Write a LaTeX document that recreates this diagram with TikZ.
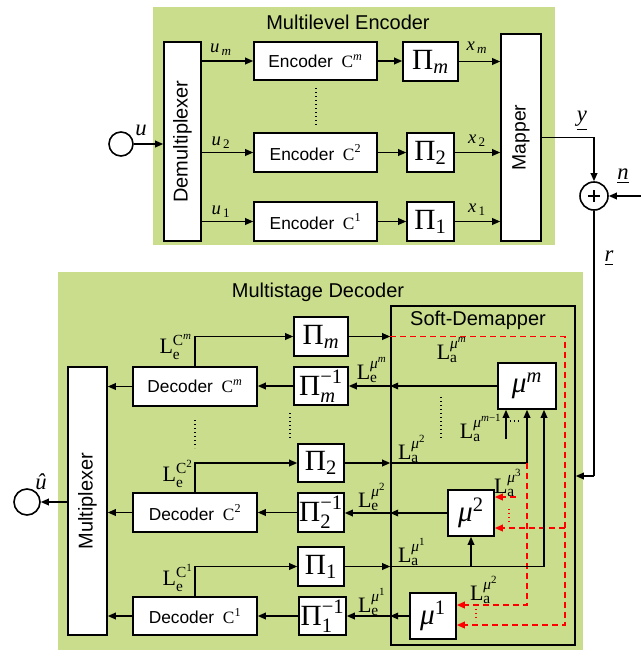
\documentclass[tikz,border=0pt]{standalone}
\usepackage{fontspec}
\usepackage{amsmath}
\setmainfont{Liberation Serif}
\setsansfont{Liberation Sans}
\usetikzlibrary{arrows.meta}
\definecolor{grn}{RGB}{201,221,140}
\newcommand{\tm}[1]{\text{\rmfamily\upshape #1}}
\newcommand{\ti}[1]{\text{\rmfamily\itshape #1}}
\begin{document}
\begin{tikzpicture}[x=0.75pt,y=-0.75pt,
  box/.style={draw, fill=white, line width=1.2pt, inner sep=0pt, font=\sffamily\fontsize{13}{15}\selectfont},
  sz/.style 2 args={minimum width=#1*0.75pt, minimum height=#2*0.75pt},
  ln/.style={line width=1pt},
  arr/.style={ln, -{Triangle[length=6pt,width=5pt]}},
  rdash/.style={red, line width=1.2pt, dash pattern=on 4.5pt off 3pt},
  rarr/.style={rdash, -{Triangle[length=6pt,width=5pt]}},
  ttl/.style={font=\sffamily\fontsize{15}{17}\selectfont, inner sep=0pt},
  rot/.style={box, font=\sffamily\fontsize{15}{17}\selectfont},
  pis/.style={box, font=\fontsize{22}{24}\selectfont},
  lbl/.style={font=\fontsize{16.5}{18}\selectfont, inner sep=0pt},
  sml/.style={font=\fontsize{14}{16}\selectfont, inner sep=0pt},
  dots/.style={dotted, line width=1pt},
  circ/.style={circle, draw, line width=1.2pt, inner sep=0pt}]
\useasboundingbox (0,0) rectangle (641,650);

% ---------------- Encoder ----------------
\fill[grn] (153,7) rectangle (555,245);
\node[ttl] (enct) at (348,22) {Multilevel Encoder};
\node[rot, sz={37}{199}] (demux) at (182.5,141.5) {\rotatebox{90}{Demultiplexer}};
\node[circ, minimum size=24*0.75pt] (uin) at (121,144) {};
\draw[arr] (uin.east) -- (uin.east -| demux.west);
\node[lbl, font=\fontsize{17}{18}\selectfont] (ul) at (141,130) {$\ti{u}$};

\node[box, sz={123}{38}] (encm) at (315.5,61) {Encoder\enspace$\tm{C}^{\ti{m}}$};
\node[box, sz={123}{39}] (enc2) at (315.5,152.5) {Encoder\enspace$\tm{C}^{\tm{2}}$};
\node[box, sz={123}{39}] (enc1) at (315.5,221.5) {Encoder\enspace$\tm{C}^{\tm{1}}$};
\draw[arr] (demux.east |- encm.west) -- (encm.west);
\draw[arr] (demux.east |- enc2.west) -- (enc2.west);
\draw[arr] (demux.east |- enc1.west) -- (enc1.west);
\node[sml] (uml) at (221,50) {$\ti{u}_{\,\ti{m}}$};
\node[sml] (u2l) at (221,143) {$\ti{u}_{\,\tm{2}}$};
\node[sml] (u1l) at (221,212) {$\ti{u}_{\,\tm{1}}$};
\draw[dots] (316,88) -- (316,126);

\node[pis, sz={55}{39}] (pem) at (430.5,61.5) {$\tm{Π}_{\ti{m}}$};
\node[pis, sz={47}{39}] (pe2) at (430.5,152.5) {$\tm{Π}_{\tm{2}}$};
\node[pis, sz={47}{39}] (pe1) at (430.5,221.5) {$\tm{Π}_{\tm{1}}$};
\draw[arr] (encm.east) -- (encm.east -| pem.west);
\draw[arr] (enc2.east) -- (enc2.east -| pe2.west);
\draw[arr] (enc1.east) -- (enc1.east -| pe1.west);

\node[rot, sz={40}{207}, font=\sffamily\fontsize{14.5}{17}\selectfont] (map) at (521,137.5) {\rotatebox{90}{Mapper}};
\draw[arr] (pem.east) -- (pem.east -| map.west);
\draw[arr] (pe2.east) -- (pe2.east -| map.west);
\draw[arr] (pe1.east) -- (pe1.east -| map.west);
\node[sml] (xml) at (477,48) {$\ti{x}_{\,\ti{m}}$};
\node[sml] (x2l) at (477,141) {$\ti{x}_{\,\tm{2}}$};
\node[sml] (x1l) at (477,210) {$\ti{x}_{\,\tm{1}}$};

% channel
\node[circ, minimum size=28*0.75pt] (add) at (594,196) {};
\draw[line width=1.6pt] (add.center) +(-6,0) -- +(6,0) (add.center) +(0,-6) -- +(0,6);
\draw[arr] (map.east) -- (map.east -| add.north) -- (add.north);
\node[lbl, font=\fontsize{17}{18}\selectfont] (yl) at (582,121) {\underline{\textit{y}}};
\coordinate (nin) at (641,196);
\draw[arr] (nin) -- (add.east);
\node[lbl, font=\fontsize{17}{18}\selectfont] (nl) at (623,176) {\underline{\textit{n}}};

% ---------------- Decoder ----------------
\fill[grn] (58,272) rectangle (583,650);
\node[ttl] (dect) at (318,292) {Multistage Decoder};
\node[draw, line width=1.2pt, sz={184}{339}, inner sep=0pt] (sdm) at (483,475.5) {};
\node[ttl] (sdmt) at (478,320) {Soft-Demapper};

\coordinate (rc) at (594,476);
\draw[ln] (add.south) -- (rc);
\draw[arr] (rc) -- (rc -| sdm.east);
\node[lbl, font=\fontsize{17}{18}\selectfont] (rl) at (609,258) {\underline{\textit{r}}};

\node[rot, sz={39}{268}] (mux) at (87.5,501) {\rotatebox{90}{Multiplexer}};
\node[circ, minimum size=26*0.75pt] (uout) at (27,502) {};
\draw[arr] (mux.west |- uout) -- (uout.east);
\node[lbl, font=\fontsize{17}{18}\selectfont] (uhl) at (41,482) {\textit{û}};

\node[box, sz={124}{39}] (decm) at (195,386.5) {Decoder\enspace$\tm{C}^{\ti{m}}$};
\node[box, sz={124}{39}] (dec2) at (195,512.5) {Decoder\enspace$\tm{C}^{\tm{2}}$};
\node[box, sz={124}{38}] (dec1) at (195,616) {Decoder\enspace$\tm{C}^{\tm{1}}$};
\draw[arr] (decm.west) -- (decm.west -| mux.east);
\draw[arr] (dec2.west) -- (dec2.west -| mux.east);
\draw[arr] (dec1.west) -- (dec1.west -| mux.east);

\node[pis, sz={54}{39}] (pdm) at (321,336.5) {$\tm{Π}_{\ti{m}}$};
\node[pis, sz={54}{38}] (pdmi) at (321,386) {$\tm{Π}_{\ti{m}}^{\tm{−1}}$};
\node[pis, sz={46}{38}] (pd2) at (321,463) {$\tm{Π}_{\tm{2}}$};
\node[pis, sz={46}{39}] (pd2i) at (321,512.5) {$\tm{Π}_{\tm{2}}^{\tm{−1}}$};
\node[pis, sz={46}{39}] (pd1) at (321,566.5) {$\tm{Π}_{\tm{1}}$};
\node[pis, sz={47}{38}] (pd1i) at (322.5,616) {$\tm{Π}_{\tm{1}}^{\tm{−1}}$};

\draw[arr] (pdmi.west) -- (pdmi.west -| decm.east);
\draw[arr] (pd2i.west) -- (pd2i.west -| dec2.east);
\draw[arr] (pd1i.west) -- (pd1i.west -| dec1.east);
\draw[arr] (decm.north) |- (pdm.west);
\draw[arr] (dec2.north) |- (pd2.west);
\draw[arr] (dec1.north) |- (pd1.west);
\node[lbl] (lecm) at (176,347) {$\tm{L}_{\tm{e}}^{\tm{C}^{\ti{m}}}$};
\node[lbl] (lec2) at (178,474) {$\tm{L}_{\tm{e}}^{\tm{C}^{\tm{2}}}$};
\node[lbl] (lec1) at (178,578) {$\tm{L}_{\tm{e}}^{\tm{C}^{\tm{1}}}$};
\draw[dots] (195,420) -- (195,448);
\draw[dots] (290,413) -- (290,440);

% soft demapper internals
\node[pis, sz={58}{46}] (mum) at (527,386) {$\ti{μ}^{\ti{m}}$};
\node[pis, sz={46}{46}] (mu2) at (471,513) {$\ti{μ}^{\tm{2}}$};
\node[pis, sz={46}{46}] (mu1) at (433,616) {$\ti{μ}^{\tm{1}}$};

% outputs of mu
\draw[arr] (mum.west) -- (mum.west -| sdm.west);
\draw[arr] (mum.west -| sdm.west) -- (mum.west -| pdmi.east);
\draw[arr] (mu2.west) -- (mu2.west -| sdm.west);
\draw[arr] (mu2.west -| sdm.west) -- (mu2.west -| pd2i.east);
\draw[arr] (mu1.west) -- (mu1.west -| sdm.west);
\draw[arr] (mu1.west -| sdm.west) -- (mu1.west -| pd1i.east);

% Pi_m input (red feedback)
\coordinate (R1) at (565,336.5);
\coordinate (R2) at (565,625);
\coordinate (R3) at (565,528);
\draw[arr] (pdm.east) -- (pdm.east -| sdm.west);
\draw[rarr] (pdm.east -| sdm.west) -- (R1) -- (R2) -- (R2 -| mu1.east);
\draw[rarr] (R3) -- (R3 -| mu2.east);

% Pi_2 input
\coordinate (B2) at (527,463);
\coordinate (B2d) at (527,605);
\draw[arr] (pd2.east) -- (pd2.east -| sdm.west);
\draw[arr] (pd2.east -| sdm.west) -- (B2) -- (B2 |- mum.south);
\draw[rarr] (B2) -- (B2d) -- (B2d -| mu1.east);

% Pi_1 input
\coordinate (B1) at (544,566.5);
\draw[arr] (pd1.east) -- (pd1.east -| sdm.west);
\draw[arr] (pd1.east -| sdm.west) -- (B1) -- (B1 |- mum.south);
\draw[arr] (mu2.south |- B1) -- (mu2.south);

% mu^{m-1}
\coordinate (B3) at (506,439);
\draw[arr] (B3) -- (B3 |- mum.south);
\draw[dots] (510,421) -- (522,421);
\draw[dots] (441,397) -- (441,440);

% mu^3 to mu2
\coordinate (R4) at (516,497);
\draw[rarr] (R4) -- (R4 -| mu2.east);
\draw[red, dotted, line width=1pt] (509,509) -- (509,522);
\draw[red, dotted, line width=1pt] (476,609) -- (476,621);

% labels
\node[lbl] (lam) at (452,350) {$\tm{L}_{\tm{a}}^{\ti{μ}^{\ti{m}}}$};
\node[lbl] (lem) at (372,370) {$\tm{L}_{\tm{e}}^{\ti{μ}^{\ti{m}}}$};
\node[lbl] (la2) at (412,449) {$\tm{L}_{\tm{a}}^{\ti{μ}^{\tm{2}}}$};
\node[lbl] (lamm) at (481,428) {$\tm{L}_{\tm{a}}^{\ti{μ}^{\ti{m}\tm{−1}}}$};
\node[lbl] (la3) at (508,483) {$\tm{L}_{\tm{a}}^{\ti{μ}^{\tm{3}}}$};
\node[lbl] (le2) at (372,497) {$\tm{L}_{\tm{e}}^{\ti{μ}^{\tm{2}}}$};
\node[lbl] (la1) at (412,552) {$\tm{L}_{\tm{a}}^{\ti{μ}^{\tm{1}}}$};
\node[lbl] (la2b) at (484,590) {$\tm{L}_{\tm{a}}^{\ti{μ}^{\tm{2}}}$};
\node[lbl] (le1) at (372,602) {$\tm{L}_{\tm{e}}^{\ti{μ}^{\tm{1}}}$};
\end{tikzpicture}
\end{document}
